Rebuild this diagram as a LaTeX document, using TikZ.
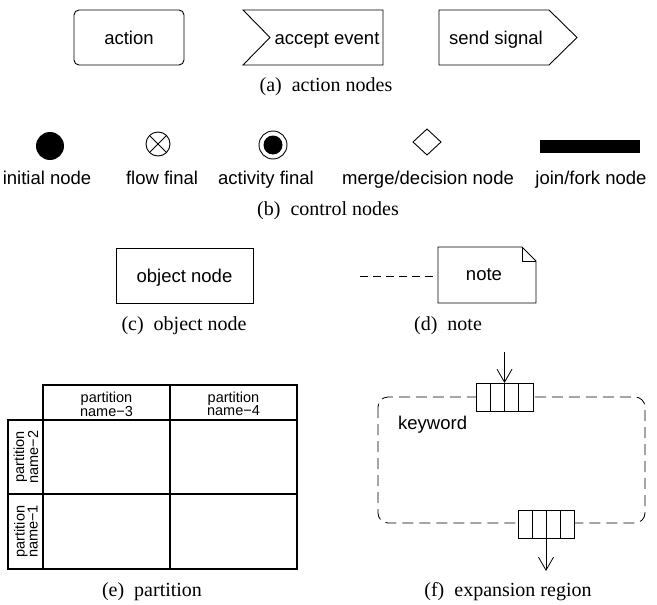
\documentclass[tikz,border=0pt]{standalone}
\usepackage{fontspec}
\setmainfont{Liberation Serif}
\setsansfont{Liberation Sans}
\usetikzlibrary{arrows.meta}

\begin{document}
\begin{tikzpicture}[x=1pt,y=-1pt,
  lbl/.style={font=\sffamily\fontsize{18.5}{21}\selectfont,inner sep=0pt,anchor=base},
  capt/.style={font=\fontsize{20}{22}\selectfont,inner sep=0pt,anchor=base},
  hdr/.style={font=\sffamily\fontsize{14.5}{13}\selectfont,align=center,inner sep=0pt},
  shp/.style={line width=0.9pt},
  grd/.style={line width=1.1pt},
  region/.style={line width=0.8pt,dash pattern=on 11pt off 6pt,rounded corners=10pt},
  flow/.style={line width=0.8pt,-{Straight Barb[length=13pt,width=15pt]}}]
\useasboundingbox (0,0) rectangle (657,605);

% (a) action nodes
\draw[shp,rounded corners=5pt] (74,10) rectangle (184,65);
\node[lbl] (action) at (129,44) {action};
\draw[shp] (243,10) -- (383,10) -- (383,65) -- (243,65) -- (270,37.5) -- cycle;
\node[lbl] (accept) at (327,44) {accept event};
\draw[shp] (439,10) -- (549,10) -- (577,37.5) -- (549,65) -- (439,65) -- cycle;
\node[lbl] (send) at (496,44) {send signal};
\node[capt] (capa) at (326,91) {(a)\hspace{0.5em}action nodes};

% (b) control nodes
\fill (50,146) circle[radius=14pt];
\draw[shp] (158,144) circle[radius=12pt];
\draw[shp] (158,144) +(45:12pt) -- +(225:12pt) +(135:12pt) -- +(315:12pt);
\draw[shp] (273,145) circle[radius=14pt];
\fill (273,145) circle[radius=9.5pt];
\draw[shp] (427,129) -- (441,142) -- (427,155) -- (413,142) -- cycle;
\fill (540,140) rectangle (640,153);
\node[lbl] (initial) at (47,184) {initial node};
\node[lbl] (flowfinal) at (162,184) {flow final};
\node[lbl] (actfinal) at (266,184) {activity final};
\node[lbl] (merge) at (428,184) {merge/decision node};
\node[lbl] (joinfork) at (591,184) {join/fork node};
\node[capt] (capb) at (328,215) {(b)\hspace{0.5em}control nodes};

% (c) object node
\draw[shp] (116,248) rectangle (253,303);
\node[lbl] (object) at (184.5,282) {object node};
\node[capt] (capc) at (184,330) {(c)\hspace{0.5em}object node};

% (d) note
\draw[shp] (438,247) -- (522,247) -- (536,261) -- (536,303) -- (438,303) -- cycle;
\draw[shp] (522,247) -- (522,261) -- (536,261);
\node[lbl] (note) at (484,280) {note};
\coordinate (noteleft) at (438,276);
\coordinate (noteend) at (360,276);
\draw[shp,dash pattern=on 8pt off 5pt] (noteend) -- (noteleft);
\node[capt] (capd) at (448,330) {(d)\hspace{0.5em}note};

% (e) partition
\draw[grd] (43,385) rectangle (297,420);
\draw[grd] (8,420) rectangle (297,569);
\draw[grd] (170,385) -- (170,569);
\draw[grd] (43,420) -- (43,569);
\draw[grd] (8,494) -- (297,494);
\node[hdr] (part3) at (106.5,404) {partition\\name−3};
\node[hdr] (part4) at (233.5,404) {partition\\name−4};
\node[hdr,rotate=90] (part2) at (26,457) {partition\\name−2};
\node[hdr,rotate=90] (part1) at (26,531.5) {partition\\name−1};
\node[capt] (cape) at (152,596) {(e)\hspace{0.5em}partition};

% (f) expansion region
\draw[region] (378,397) rectangle (645,523);
\foreach \i in {0,...,3} {
  \draw[shp,fill=white] (476+14.25*\i,383) rectangle ++(14.25,28);
  \draw[shp,fill=white] (518+14*\i,510) rectangle ++(14,28);
}
\coordinate (inpin) at (504.5,383);
\coordinate (instart) at (504.5,352);
\draw[flow] (instart) -- (inpin);
\coordinate (outpin) at (546,538);
\coordinate (outend) at (546,571);
\draw[flow] (outpin) -- (outend);
\node[lbl,anchor=base west] (keyword) at (398,429) {keyword};
\node[capt] (capf) at (508,596) {(f)\hspace{0.5em}expansion region};
\end{tikzpicture}
\end{document}
